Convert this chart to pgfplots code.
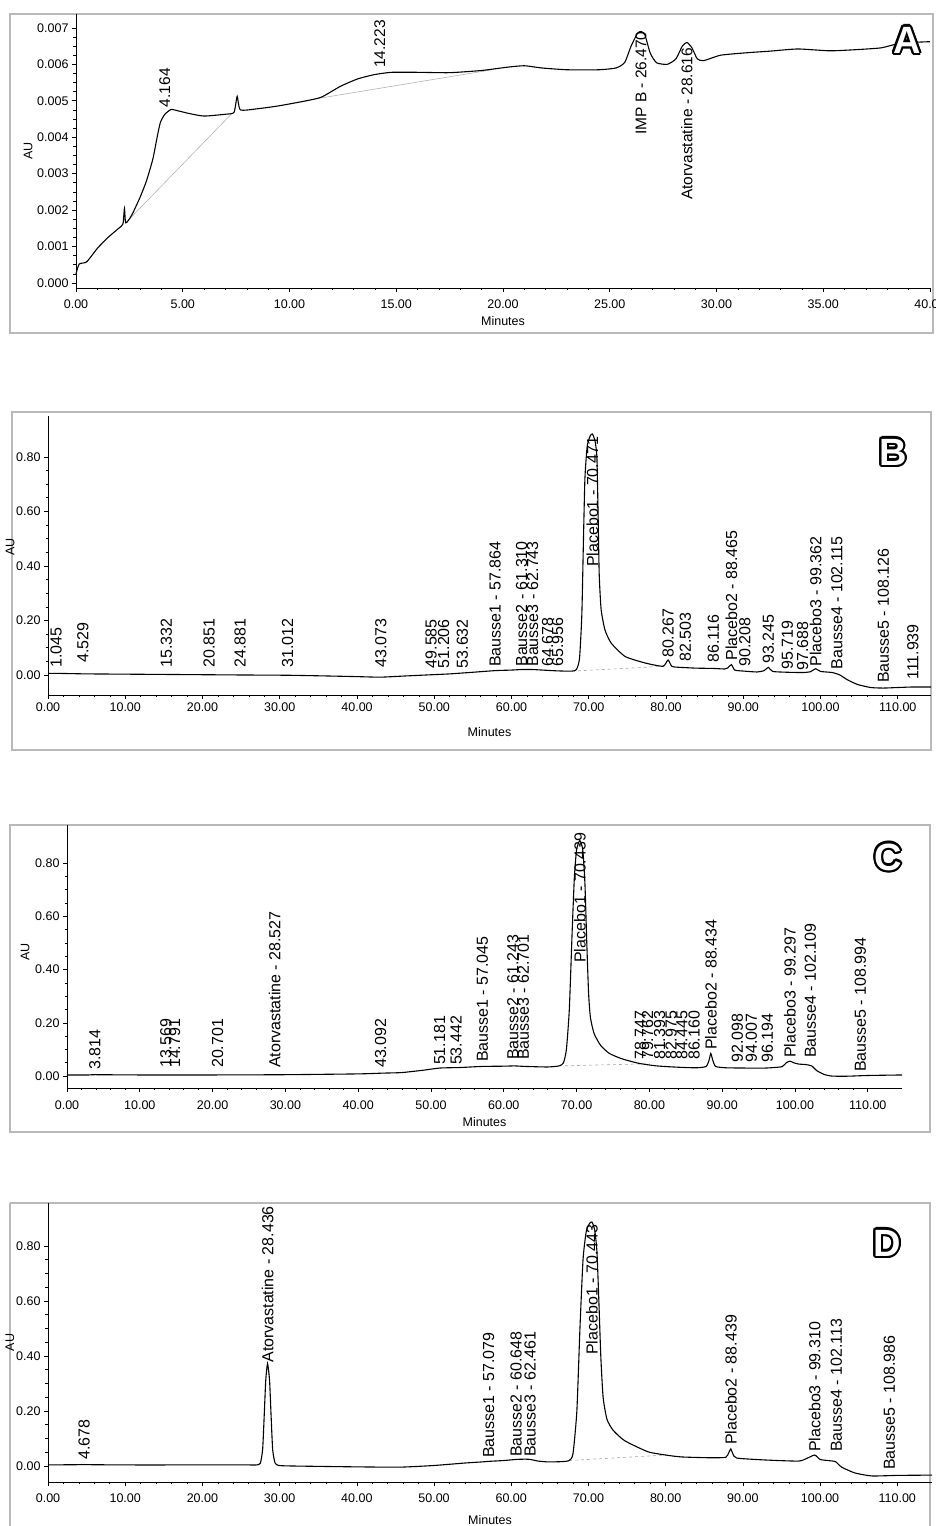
\documentclass[border=0pt]{standalone}
\usepackage{fontspec}
\setmainfont{Liberation Sans}
\usepackage{pgfplots}
\pgfplotsset{compat=1.18}

\pgfplotsset{
  chrom/.style={
    scale only axis,
    axis lines*=left,
    axis line style={black, line width=0.9pt},
    tick align=outside,
    major tick length=4pt,
    minor tick length=2.5pt,
    tick style={black, line width=0.6pt},
    tick label style={font=\fontsize{12.5}{14}\selectfont},
    /pgf/number format/assume math mode=true,
    xticklabel style={/pgf/number format/fixed, /pgf/number format/fixed zerofill, /pgf/number format/precision=2},
    xlabel={Minutes}, ylabel={AU},
    label style={font=\fontsize{12.5}{14}\selectfont},
    clip=false,
  },
}
\tikzset{
  trace/.style={black, line width=1.1pt, smooth, tension=0.35},
  intbase/.style={gray!70, line width=0.6pt, dashed},
  peak/.style={rotate=90, anchor=west, inner sep=0pt, font=\fontsize{16}{18}\selectfont},
  peakA/.style={rotate=90, anchor=west, inner sep=0pt, font=\fontsize{15.5}{17}\selectfont},
}

% outlined panel letter
\newcommand\panelletter[2]{%
  \foreach \ang in {0,22.5,...,337.5}
    \node[font=\fontsize{38}{40}\selectfont\bfseries, text=black, inner sep=0pt, shift={(\ang:2.2)}] at (#1) {#2};
  \node[font=\fontsize{38}{40}\selectfont\bfseries, text=white, inner sep=0pt] at (#1) {#2};
}

\begin{document}
\begin{tikzpicture}[x=1pt, y=1pt]
\useasboundingbox (0,0) rectangle (935,1526);

% printout frames
\draw[gray!55, line width=1.2pt] (10,1512) rectangle (933,1193);
\draw[gray!55, line width=1.2pt] (12,1114) rectangle (931,776);
\draw[gray!55, line width=1.2pt] (10,701) rectangle (930,394);
\draw[gray!55, line width=1.2pt] (10,323) -- (10,-5);
\draw[gray!55, line width=1.2pt] (10,323) -- (930,323) -- (930,-5);

% ---------------- A ----------------
\begin{axis}[chrom, at={(76pt,1238pt)}, anchor=south west,
  width=854pt, height=274pt,
  xmin=0, xmax=40, ymin=-0.000137, ymax=0.00738,
  xtick={0,5,10,15,20,25,30,35,40},
  ytick={0,0.001,0.002,0.003,0.004,0.005,0.006,0.007},
  minor x tick num=4, minor y tick num=3,
  scaled y ticks=false,
  yticklabel style={/pgf/number format/fixed, /pgf/number format/fixed zerofill, /pgf/number format/precision=3},
  xticklabel style={yshift=-4pt},
  xlabel style={at={(axis description cs:0.5,0)}, anchor=north, yshift=-25pt},
  ylabel style={at={(axis description cs:-0.056,0.5)}, anchor=center},
]
\addplot[gray!60, line width=0.6pt] coordinates {(2.33,0.00165) (7.3,0.00465)};
\addplot[gray!60, line width=0.6pt] coordinates {(11.2,0.00505) (19.5,0.00585)};
\addplot[trace] coordinates {
 (0,0.00025) (0.15,0.00052) (0.5,0.00058) (1.0,0.00095) (1.5,0.00125)
 (2.0,0.00150) (2.2,0.00162) (2.27,0.00205) (2.33,0.00165) (2.6,0.00185)
 (3.0,0.00235) (3.3,0.0028) (3.6,0.0034) (3.8,0.0040) (3.95,0.0044)
 (4.15,0.00462) (4.45,0.00476) (4.8,0.00472) (5.3,0.00465) (6.0,0.00458)
 (7.0,0.00463) (7.4,0.00468) (7.55,0.00512) (7.7,0.00475) (8.5,0.00478)
 (9.5,0.00486) (10.8,0.00500) (11.5,0.00510) (12.4,0.00540) (13.2,0.00560)
 (14.0,0.00572) (14.8,0.00578) (16.0,0.00578) (17.5,0.00577) (19.0,0.00583)
 (20.2,0.00592) (21.0,0.00596) (21.8,0.00590) (23.0,0.00585) (24.5,0.00585)
 (25.3,0.00590) (25.7,0.00605) (26.0,0.00650) (26.3,0.00685) (26.47,0.00690)
 (26.65,0.00680) (26.9,0.00630) (27.2,0.00604) (27.7,0.00600) (28.1,0.00615)
 (28.4,0.00650) (28.616,0.00660) (28.85,0.00645) (29.1,0.00615) (29.4,0.00610)
 (30.2,0.00625) (31.5,0.00632) (32.5,0.00636) (33.8,0.00642) (35.3,0.00637)
 (36.5,0.00640) (37.7,0.00645) (38.4,0.00655) (39.2,0.00660) (40.0,0.00662)};
\node[peakA] at (axis cs:4.164,0.00482) {4.164};
\node[peakA] at (axis cs:14.223,0.0059) {14.223};
\node[peakA] at (axis cs:26.470,0.00406) {IMP B - 26.470};
\node[peakA] at (axis cs:28.616,0.00228) {Atorvastatine - 28.616};
\end{axis}

% ---------------- B ----------------
\begin{axis}[chrom, at={(48pt,831pt)}, anchor=south west,
  width=883pt, height=279pt,
  xmin=0, xmax=114.3, ymin=-0.0734, ymax=0.95,
  xtick={0,10,...,110}, ytick={0,0.2,0.4,0.6,0.8},
  minor x tick num=4, minor y tick num=3,
  yticklabel style={/pgf/number format/fixed, /pgf/number format/fixed zerofill, /pgf/number format/precision=2},
  xlabel style={at={(axis description cs:0.5,0)}, anchor=north, yshift=-29pt},
  ylabel style={at={(axis description cs:-0.043,0.53)}, anchor=center},
]
\addplot[intbase] coordinates {(67.8,0.014) (79.8,0.032)};
\addplot[trace] coordinates {
 (0,0.006) (1.0,0.006) (3.0,0.005) (5,0.004) (10,0.003) (15,0.002) (20,0.001)
 (25,0.0) (31,-0.001) (35,-0.003) (40,-0.006) (43,-0.008) (46,-0.004) (49,0.0)
 (52,0.004) (55,0.010) (57.9,0.016) (60,0.018) (61.3,0.020) (62.7,0.020)
 (64,0.018) (66,0.015) (67.8,0.014) (68.4,0.02) (68.8,0.06) (69.1,0.22)
 (69.3,0.48) (69.5,0.72) (69.8,0.84) (70.2,0.878) (70.47,0.884) (70.8,0.86)
 (71.05,0.80) (71.2,0.60) (71.35,0.37) (71.6,0.24) (72.1,0.165) (72.9,0.117)
 (74.7,0.068) (77.3,0.044) (79.6,0.032) (80.267,0.055) (80.8,0.031)
 (82.5,0.027) (84,0.025) (86.1,0.024) (87.6,0.022) (88.0,0.026) (88.465,0.038)
 (88.9,0.018) (90.2,0.014) (91.8,0.011) (92.7,0.016) (93.245,0.028) (93.8,0.013)
 (95.7,0.010) (97.7,0.009) (98.7,0.012) (99.362,0.023) (100.0,0.013)
 (101.5,0.009) (102.5,0.0) (103.5,-0.018) (104.8,-0.035) (106.5,-0.046)
 (108.1,-0.048) (110,-0.046) (112,-0.044) (114.3,-0.044)};
\node[peak] at (axis cs:1.045,0.026) {1.045};
\node[peak] at (axis cs:4.529,0.044) {4.529};
\node[peak] at (axis cs:15.332,0.026) {15.332};
\node[peak] at (axis cs:20.851,0.026) {20.851};
\node[peak] at (axis cs:24.881,0.026) {24.881};
\node[peak] at (axis cs:31.012,0.026) {31.012};
\node[peak] at (axis cs:43.073,0.026) {43.073};
\node[peak] at (axis cs:49.585,0.024) {49.585};
\node[peak] at (axis cs:51.206,0.024) {51.206};
\node[peak] at (axis cs:53.632,0.024) {53.632};
\node[peak] at (axis cs:57.864,0.029) {Bausse1 - 57.864};
\node[peak] at (axis cs:61.310,0.030) {Bausse2 - 61.310};
\node[peak] at (axis cs:62.743,0.030) {Bausse3 - 62.743};
\node[peak] at (axis cs:64.678,0.030) {64.678};
\node[peak] at (axis cs:65.956,0.030) {65.956};
\node[peak] at (axis cs:70.471,0.396) {Placebo1 - 70.471};
\node[peak] at (axis cs:80.267,0.062) {80.267};
\node[peak] at (axis cs:82.503,0.049) {82.503};
\node[peak] at (axis cs:86.116,0.044) {86.116};
\node[peak] at (axis cs:88.465,0.052) {Placebo2 - 88.465};
\node[peak] at (axis cs:90.208,0.030) {90.208};
\node[peak] at (axis cs:93.245,0.040) {93.245};
\node[peak] at (axis cs:95.719,0.020) {95.719};
\node[peak] at (axis cs:97.688,0.016) {97.688};
\node[peak] at (axis cs:99.362,0.030) {Placebo3 - 99.362};
\node[peak] at (axis cs:102.115,0.020) {Bausse4 - 102.115};
\node[peak] at (axis cs:108.126,-0.030) {Bausse5 - 108.126};
\node[peak] at (axis cs:111.939,-0.018) {111.939};
\end{axis}

% ---------------- C ----------------
\begin{axis}[chrom, at={(67pt,438pt)}, anchor=south west,
  width=835pt, height=263pt,
  xmin=0, xmax=114.7, ymin=-0.045, ymax=0.9436,
  xtick={0,10,...,110}, ytick={0,0.2,0.4,0.6,0.8},
  minor x tick num=4, minor y tick num=3,
  yticklabel style={/pgf/number format/fixed, /pgf/number format/fixed zerofill, /pgf/number format/precision=2},
  xticklabel style={yshift=-5pt},
  xlabel style={at={(axis description cs:0.5,0)}, anchor=north, yshift=-26pt},
  ylabel style={at={(axis description cs:-0.05,0.517)}, anchor=center},
]
\addplot[intbase] coordinates {(67.6,0.038) (80,0.046)};
\addplot[trace] coordinates {
 (0,0.004) (3.0,0.004) (3.814,0.005) (10,0.004) (20,0.004) (30,0.005)
 (40,0.008) (43.5,0.011) (46,0.013) (49,0.022) (51.2,0.030) (54,0.032)
 (57.0,0.036) (60,0.037) (61.5,0.038) (63,0.036) (66,0.034) (67.6,0.038)
 (68.2,0.05) (68.6,0.10) (69.0,0.25) (69.4,0.55) (69.7,0.75) (70.0,0.85)
 (70.44,0.885) (70.85,0.85) (71.15,0.72) (71.4,0.50) (71.65,0.31) (71.9,0.22)
 (72.4,0.16) (73.3,0.115) (74.5,0.085) (76.2,0.065) (78.5,0.048) (81,0.038)
 (84,0.033) (86.5,0.031) (87.8,0.036) (88.2,0.06) (88.434,0.085) (88.7,0.06)
 (89.1,0.036) (90.5,0.031) (93,0.030) (96,0.030) (98.2,0.035) (98.8,0.050)
 (99.297,0.056) (99.8,0.050) (100.5,0.045) (101.5,0.043) (102.3,0.038)
 (103.0,0.020) (104,0.006) (105,0.0) (106.5,-0.001) (108,0.0) (110,0.002)
 (114.7,0.004)};
\node[peak] at (axis cs:3.814,0.023) {3.814};
\node[peak] at (axis cs:13.569,0.030) {13.569};
\node[peak] at (axis cs:14.791,0.030) {14.791};
\node[peak] at (axis cs:20.701,0.030) {20.701};
\node[peak] at (axis cs:28.527,0.030) {Atorvastatine - 28.527};
\node[peak] at (axis cs:43.092,0.030) {43.092};
\node[peak] at (axis cs:51.181,0.041) {51.181};
\node[peak] at (axis cs:53.442,0.041) {53.442};
\node[peak] at (axis cs:57.045,0.053) {Bausse1 - 57.045};
\node[peak] at (axis cs:61.243,0.060) {Bausse2 - 61.243};
\node[peak] at (axis cs:62.701,0.060) {Bausse3 - 62.701};
\node[peak] at (axis cs:70.439,0.425) {Placebo1 - 70.439};
\node[peak] at (axis cs:78.747,0.060) {78.747};
\node[peak] at (axis cs:79.762,0.060) {79.762};
\node[peak] at (axis cs:81.393,0.060) {81.393};
\node[peak] at (axis cs:82.975,0.060) {82.975};
\node[peak] at (axis cs:84.445,0.060) {84.445};
\node[peak] at (axis cs:86.160,0.060) {86.160};
\node[peak] at (axis cs:88.434,0.098) {Placebo2 - 88.434};
\node[peak] at (axis cs:92.098,0.049) {92.098};
\node[peak] at (axis cs:94.007,0.049) {94.007};
\node[peak] at (axis cs:96.194,0.049) {96.194};
\node[peak] at (axis cs:99.297,0.068) {Placebo3 - 99.297};
\node[peak] at (axis cs:102.109,0.068) {Bausse4 - 102.109};
\node[peak] at (axis cs:108.994,0.015) {Bausse5 - 108.994};
\end{axis}

% ---------------- D ----------------
\begin{axis}[chrom, at={(48pt,44pt)}, anchor=south west,
  width=884pt, height=279pt,
  xmin=0, xmax=114.5, ymin=-0.058, ymax=0.956,
  xtick={0,10,...,110}, ytick={0,0.2,0.4,0.6,0.8},
  minor x tick num=4, minor y tick num=3,
  yticklabel style={/pgf/number format/fixed, /pgf/number format/fixed zerofill, /pgf/number format/precision=2},
  xticklabel style={yshift=-4pt},
  xlabel style={at={(axis description cs:0.5,0)}, anchor=north, yshift=-30pt},
  ylabel style={at={(axis description cs:-0.043,0.5)}, anchor=center},
]
\addplot[intbase] coordinates {(67.5,0.02) (80,0.04)};
\addplot[trace] coordinates {
 (0,0.004) (4.678,0.005) (10,0.004) (20,0.004) (26,0.004) (27.0,0.004)
 (27.5,0.010) (27.8,0.060) (28.0,0.180) (28.2,0.310) (28.436,0.372)
 (28.7,0.310) (28.9,0.180) (29.1,0.060) (29.4,0.012) (29.9,0.002) (32,0.0)
 (40,-0.003) (45.6,-0.004) (50,0.002) (54,0.011) (56.2,0.015) (57.079,0.017)
 (59,0.020) (60.648,0.024) (61.8,0.025) (62.461,0.024) (63.5,0.018)
 (64.8,0.015) (66.5,0.016) (67.5,0.020) (68.0,0.045) (68.5,0.20) (68.9,0.50)
 (69.3,0.75) (69.7,0.85) (70.1,0.88) (70.443,0.887) (70.8,0.86) (71.1,0.78)
 (71.35,0.60) (71.6,0.40) (71.9,0.25) (72.4,0.17) (73.2,0.13) (74.7,0.092)
 (77.7,0.052) (80,0.040) (82.1,0.033) (86,0.030) (87.8,0.032) (88.2,0.050)
 (88.439,0.062) (88.7,0.045) (89.2,0.029) (92.9,0.022) (97.2,0.018)
 (98.3,0.028) (99.31,0.040) (100.0,0.024) (101.0,0.020) (102.0,0.016)
 (102.8,-0.004) (104.5,-0.025) (106.7,-0.036) (110,-0.034) (114.5,-0.033)};
\node[peak] at (axis cs:4.678,0.022) {4.678};
\node[peak] at (axis cs:28.436,0.375) {Atorvastatine - 28.436};
\node[peak] at (axis cs:57.079,0.029) {Bausse1 - 57.079};
\node[peak] at (axis cs:60.648,0.033) {Bausse2 - 60.648};
\node[peak] at (axis cs:62.461,0.033) {Bausse3 - 62.461};
\node[peak] at (axis cs:70.443,0.404) {Placebo1 - 70.443};
\node[peak] at (axis cs:88.439,0.076) {Placebo2 - 88.439};
\node[peak] at (axis cs:99.310,0.051) {Placebo3 - 99.310};
\node[peak] at (axis cs:102.113,0.051) {Bausse4 - 102.113};
\node[peak] at (axis cs:108.986,-0.015) {Bausse5 - 108.986};
\end{axis}

% panel letters
\panelletter{907,1486}{A}
\panelletter{893,1074}{B}
\panelletter{888,669}{C}
\panelletter{887,283}{D}
\end{tikzpicture}
\end{document}
